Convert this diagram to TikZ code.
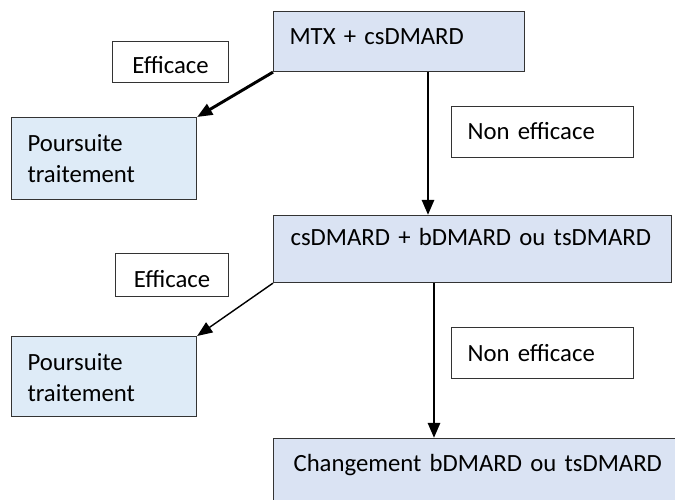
\documentclass[tikz,border=0pt]{standalone}
\usepackage{fontspec}
\setmainfont{Carlito}
\usepackage{tikz}
\usetikzlibrary{arrows.meta}

\definecolor{boxblue}{HTML}{DAE3F3}
\definecolor{endblue}{HTML}{DEEBF7}

\tikzset{
  stepbox/.style={draw=black!80, line width=0.8pt, fill=boxblue, anchor=north west,
    align=left, inner xsep=0.5cm, inner ysep=0pt, font=\fontsize{17.6}{22}\selectfont},
  endbox/.style={stepbox, fill=endblue, inner xsep=0.4cm},
  labelbox/.style={stepbox, fill=white, inner xsep=0.4cm},
  flow/.style={-{Triangle[length=0.38cm,width=0.3cm]}, line width=2.1pt},
}

\begin{document}
\begin{tikzpicture}[x=1cm,y=-1cm]
        % \draw[help lines] (0,0) grid (17,12.5);
        \clip (0,0) rectangle (16.875,12.5);

        \node[stepbox, inner xsep=0.4cm, text width=5.475cm, text height=0.825cm, text depth=0.675cm]
          (mtx) at (6.825,0.275) {MTX + csDMARD};
        \node[stepbox, inner xsep=0.425cm, text width=9.1cm, text height=0.75cm, text depth=0.925cm]
          (csd) at (6.825,5.375) {csDMARD + bDMARD ou tsDMARD};
        \node[stepbox, text width=10cm, text height=0.825cm, text depth=1.5cm]
          (chg) at (6.825,10.95) {Changement bDMARD ou tsDMARD};

        \node[endbox, text width=3.825cm, text height=0.85cm, text depth=1.2cm]
          (pours1) at (0.275,2.925) {Poursuite\\traitement};
        \node[endbox, text width=3.825cm, text height=0.85cm, text depth=1.15cm]
          (pours2) at (0.275,8.4) {Poursuite\\traitement};

        \node[labelbox, align=center, inner xsep=0.2cm, text width=2.5cm, text height=0.8cm, text depth=0.225cm]
          (eff1) at (2.8,1.025) {Efficace};
        \node[labelbox, align=center, inner xsep=0.2cm, text width=2.425cm, text height=0.85cm, text depth=0.225cm]
          (eff2) at (2.875,6.325) {Efficace};
        \node[labelbox, text width=3.75cm, text height=0.825cm, text depth=0.45cm]
          (non1) at (11.275,2.65) {Non efficace};
        \node[labelbox, text width=3.75cm, text height=0.85cm, text depth=0.425cm]
          (non2) at (11.275,8.175) {Non efficace};

        \coordinate (down1) at (10.7,0);
        \coordinate (down2) at (10.85,0);

        % efficace: continue treatment
        \draw[flow] (mtx.south west) -- (pours1.north east);
        \draw[flow, line width=1pt] (csd.south west) -- (pours2.north east);

        % non efficace: next line
        \draw[flow] (mtx.south -| down1) -- (csd.north -| down1);
        \draw[flow] (csd.south -| down2) -- (chg.north -| down2);

\end{tikzpicture}
\end{document}
